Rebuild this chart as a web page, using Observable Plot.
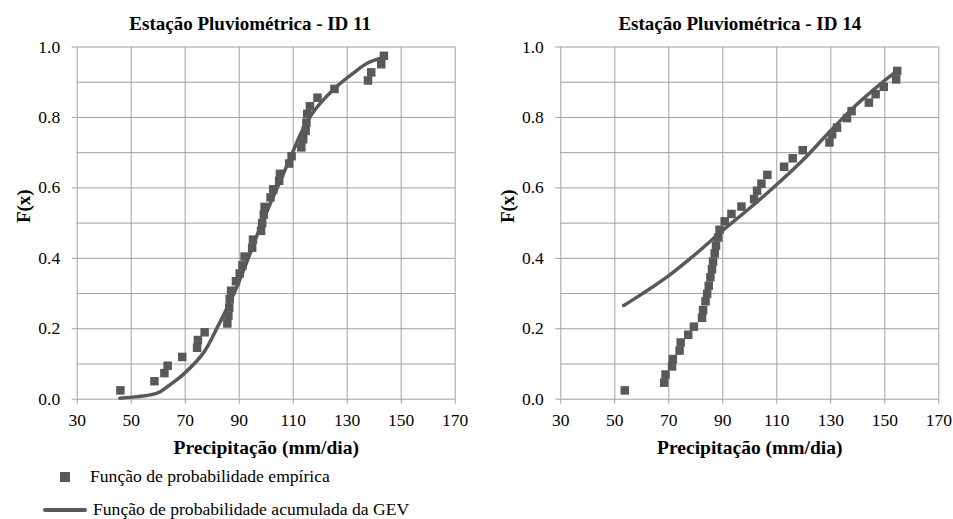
<!DOCTYPE html>
<html>
<head>
<meta charset="utf-8">
<script src="https://cdn.jsdelivr.net/npm/d3@7"></script>
<script src="https://cdn.jsdelivr.net/npm/@observablehq/plot@0.6"></script>
<style>
  html, body { margin: 0; padding: 0; background: #fff; }
  body { width: 953px; height: 519px; position: relative; overflow: hidden; font-family: 'Liberation Serif', 'DejaVu Serif', serif; }
  .chart { position: absolute; top: 0; }
  .leg { position: absolute; font-size: 17.6px; color: #000; line-height: 1; white-space: nowrap; font-family: 'Liberation Serif', 'DejaVu Serif', serif; }
</style>
</head>
<body>
<div id="c1" class="chart" style="left:0px"></div>
<div id="c2" class="chart" style="left:476px"></div>
<div id="legend"></div>
<script>
// ---- Data ----
const titles = ["Estação Pluviométrica - ID 11", "Estação Pluviométrica - ID 14"];
const xLabel = "Precipitação (mm/dia)";
const yLabel = "F(x)";
const legendLabels = ["Função de probabilidade empírica", "Função de probabilidade acumulada da GEV"];
const xTicks = [30, 50, 70, 90, 110, 130, 150, 170];
const yTicks = [0, 0.2, 0.4, 0.6, 0.8, 1.0];
const yGrid = [0, 0.1, 0.2, 0.3, 0.4, 0.5, 0.6, 0.7, 0.8, 0.9, 1.0];

// Station ID 11 - empirical
const emp11x = [46, 58.6, 62.3, 63.5, 68.9, 74.4, 74.7, 77.2, 85.6, 86.0, 86.3, 86.5, 87.0, 88.8, 90.2, 91.2, 92.0, 94.8, 95.1, 98.1, 98.5, 99.1, 99.4, 101.6, 102.6, 104.8, 105.1, 108.5, 109.4, 113.0, 113.7, 114.6, 114.9, 115.2, 116.2, 119.0, 125.3, 137.7, 138.9, 142.6, 143.6];
const emp11y = [0.025, 0.051, 0.074, 0.095, 0.12, 0.146, 0.168, 0.19, 0.215, 0.237, 0.26, 0.284, 0.308, 0.335, 0.357, 0.38, 0.405, 0.43, 0.453, 0.478, 0.5, 0.524, 0.546, 0.573, 0.596, 0.62, 0.64, 0.669, 0.69, 0.715, 0.738, 0.762, 0.785, 0.81, 0.832, 0.856, 0.881, 0.905, 0.928, 0.951, 0.975];
// Station ID 11 - GEV CDF
const gev11x = [45.8, 59.6, 64, 69.5, 76.9, 81.9, 85.6, 89.3, 93, 96.7, 100.4, 104.1, 109, 112.7, 116.4, 121.4, 126.3, 132.5, 137.4, 143.6];
const gev11y = [0.003, 0.017, 0.039, 0.072, 0.133, 0.204, 0.26, 0.322, 0.393, 0.467, 0.535, 0.601, 0.686, 0.752, 0.804, 0.852, 0.889, 0.927, 0.954, 0.97];

// Station ID 14 - empirical
const emp14x = [53.7, 68.3, 68.8, 71.2, 71.5, 74.0, 74.4, 77.2, 79.3, 82.3, 82.7, 83.6, 84.2, 84.8, 85.4, 86.0, 86.4, 87.0, 87.5, 88.3, 88.8, 90.7, 93.2, 96.9, 101.6, 102.7, 104.3, 106.5, 112.7, 115.9, 119.6, 129.5, 130.5, 132.3, 136.0, 137.7, 144.1, 146.6, 149.6, 154.2, 154.6];
const emp14y = [0.025, 0.047, 0.07, 0.093, 0.114, 0.138, 0.161, 0.183, 0.206, 0.231, 0.253, 0.278, 0.299, 0.322, 0.346, 0.369, 0.391, 0.414, 0.436, 0.459, 0.481, 0.505, 0.526, 0.547, 0.568, 0.592, 0.612, 0.637, 0.66, 0.684, 0.707, 0.729, 0.752, 0.771, 0.798, 0.818, 0.842, 0.866, 0.887, 0.908, 0.932];
// Station ID 14 - GEV CDF
const gev14x = [53.3, 60.1, 70, 79.9, 89.8, 99.6, 109.5, 119.4, 129.3, 139.1, 149, 154.6];
const gev14y = [0.266, 0.299, 0.351, 0.412, 0.478, 0.54, 0.606, 0.677, 0.757, 0.833, 0.899, 0.932];

// ---- Styles ----
const markColor = "#595959";
const gridColor = "#a0a0a0";
const serif = "'Liberation Serif', 'DejaVu Serif', serif";

function zip(xs, ys) { return xs.map((x, i) => ({x, y: ys[i]})); }

function makeChart(title, emp, gev, mLeft, mRight, titleDx) {
  return Plot.plot({
    width: 476,
    height: 465,
    marginTop: 46.5,
    marginBottom: 66.3,
    marginLeft: mLeft,
    marginRight: mRight,
    style: {fontFamily: serif, fontSize: "17.5px", color: "#000", background: "transparent", overflow: "visible"},
    x: {domain: [30, 170]},
    y: {domain: [0, 1]},
    marks: [
      Plot.ruleY(yGrid, {stroke: gridColor, strokeWidth: 1}),
      Plot.ruleX(xTicks, {stroke: gridColor, strokeWidth: 1}),
      Plot.axisX({ticks: xTicks, tickSize: 5, tickPadding: 9, stroke: gridColor, label: null, tickFormat: d => String(d), fill: "#000", fontSize: 17.5}),
      Plot.axisY({ticks: yTicks, tickSize: 5, tickPadding: 12, stroke: gridColor, label: null, tickFormat: d3.format(".1f"), fill: "#000", fontSize: 17.5}),
      Plot.line(gev, {x: "x", y: "y", stroke: markColor, strokeWidth: 3.5, curve: "catmull-rom"}),
      Plot.dot(emp, {x: "x", y: "y", symbol: "square", r: 4.8, fill: markColor, stroke: "none"}),
      Plot.text([title], {frameAnchor: "top", lineAnchor: "middle", dy: -23, dx: titleDx, fontWeight: "bold", fontSize: 19, fill: "#000"}),
      Plot.text([xLabel], {frameAnchor: "bottom", lineAnchor: "middle", dy: 49, fontWeight: "bold", fontSize: 19.5, fill: "#000"}),
      Plot.text([yLabel], {frameAnchor: "left", lineAnchor: "middle", dx: -53, rotate: -90, fontWeight: "bold", fontSize: 19, fill: "#000"})
    ]
  });
}

document.getElementById("c1").append(makeChart(titles[0], zip(emp11x, emp11y), zip(gev11x, gev11y), 76.7, 21.3, -16));
document.getElementById("c2").append(makeChart(titles[1], zip(emp14x, emp14y), zip(gev14x, gev14y), 84.3, 13.7, -10));

// ---- Legend ----
const legend = document.getElementById("legend");
legend.innerHTML = `
  <div style="position:absolute;left:60px;top:472px;width:10px;height:10px;background:${markColor}"></div>
  <div class="leg" style="left:90px;top:468px">${legendLabels[0]}</div>
  <div style="position:absolute;left:43px;top:508px;width:44px;height:3.5px;background:${markColor};border-radius:2px"></div>
  <div class="leg" style="left:93px;top:501px">${legendLabels[1]}</div>
`;
</script>
</body>
</html>
